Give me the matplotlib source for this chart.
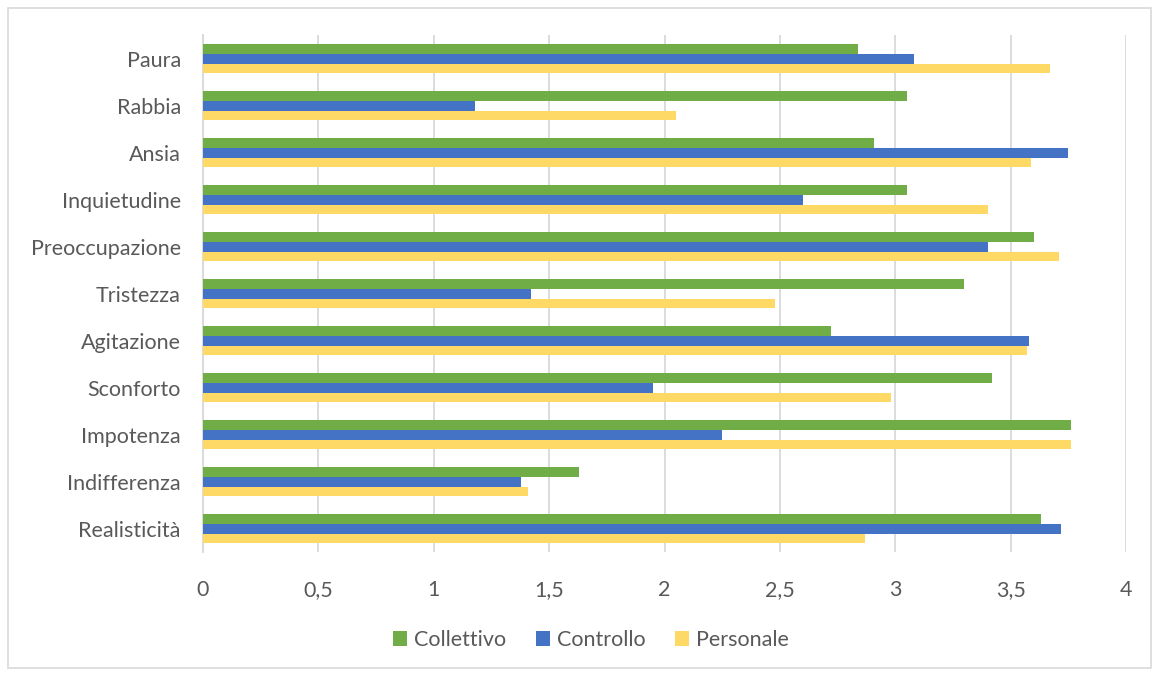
import numpy as np
import matplotlib.pyplot as plt
from matplotlib.patches import Rectangle

plt.rcParams['font.family'] = ['Lato', 'DejaVu Sans']

# emozioni e punteggi medi per gruppo
emozioni = ['Paura', 'Rabbia', 'Ansia', 'Inquietudine', 'Preoccupazione', 'Tristezza',
            'Agitazione', 'Sconforto', 'Impotenza', 'Indifferenza', 'Realisticità']
collettivo = [2.84, 3.05, 2.91, 3.05, 3.60, 3.30, 2.72, 3.42, 3.76, 1.63, 3.63]
controllo = [3.08, 1.18, 3.75, 2.60, 3.40, 1.42, 3.58, 1.95, 2.25, 1.38, 3.72]
personale = [3.67, 2.05, 3.59, 3.40, 3.71, 2.48, 3.57, 2.98, 3.76, 1.41, 2.87]

verde = '#70AD47'
blu = '#4472C4'
giallo = '#FFD966'
grigio = '#595959'

fig = plt.figure(figsize=(11.59, 6.75), dpi=100)
ax = fig.add_axes([0.1752, 0.182, 0.7963, 0.766])

y = np.arange(len(emozioni))
h = 0.21
ax.barh(y - h, collettivo, height=h, color=verde, label='Collettivo', zorder=3)
ax.barh(y, controllo, height=h, color=blu, label='Controllo', zorder=3)
ax.barh(y + h, personale, height=h, color=giallo, label='Personale', zorder=3)

ax.set_ylim(len(emozioni) - 0.5, -0.5)
ax.set_xlim(0, 4)
ax.set_yticks(y)
ax.set_yticklabels(emozioni)
xt = np.arange(0, 4.01, 0.5)
ax.set_xticks(xt)
ax.set_xticklabels([('%g' % v).replace('.', ',') for v in xt])

ax.grid(axis='x', color='#D9D9D9', linewidth=1.3, zorder=0)
for s in ['top', 'right', 'bottom']:
    ax.spines[s].set_visible(False)
ax.spines['left'].set_color('#D9D9D9')
ax.spines['left'].set_linewidth(1.3)
ax.tick_params(axis='both', length=0, labelsize=15.5, labelcolor=grigio)
ax.tick_params(axis='y', pad=16)
ax.tick_params(axis='x', pad=20)

fig.legend(loc='lower center', bbox_to_anchor=(0.51, 0.008), ncol=3, frameon=False,
           fontsize=15.5, labelcolor=grigio, handlelength=0.65, handleheight=0.65,
           handletextpad=0.3, columnspacing=1.4)

# cornice esterna del grafico
fig.patches.append(Rectangle((0.007, 0.01), 0.986, 0.978, transform=fig.transFigure,
                             fill=False, edgecolor='#D9D9D9', linewidth=1.2))

fig.savefig('out.png', dpi=100)
